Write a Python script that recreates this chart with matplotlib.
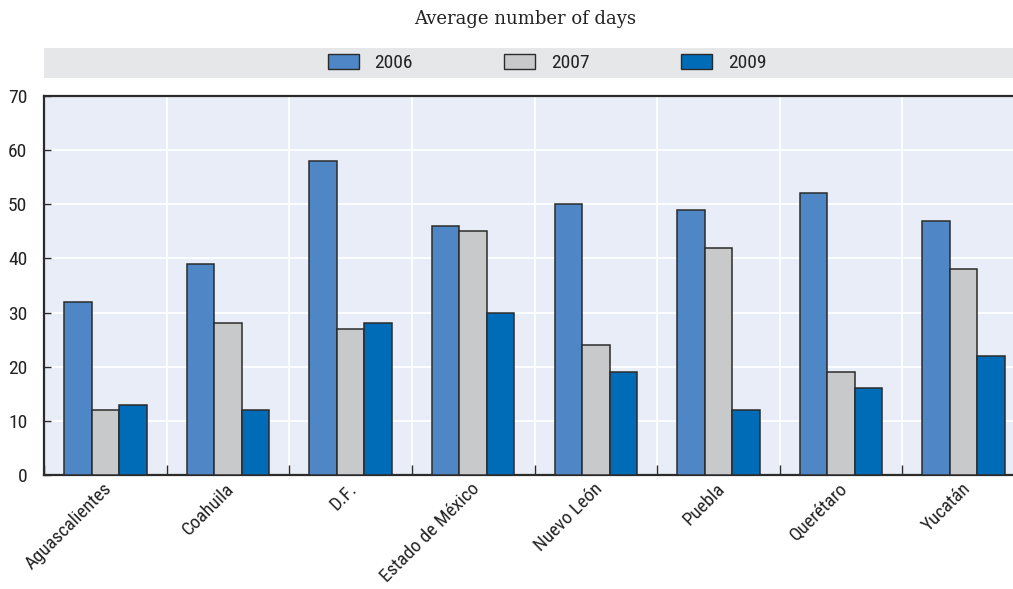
import matplotlib
matplotlib.use("Agg")
import matplotlib.pyplot as plt
import matplotlib.transforms as mtransforms
import numpy as np
from matplotlib.patches import Rectangle, Patch

states = ["Aguascalientes", "Coahuila", "D.F.", "Estado de México",
          "Nuevo León", "Puebla", "Querétaro", "Yucatán"]
years = ["2006", "2007", "2009"]
days_2006 = [32, 39, 58, 46, 50, 49, 52, 47]
days_2007 = [12, 28, 27, 45, 24, 42, 19, 38]
days_2009 = [13, 12, 28, 30, 19, 12, 16, 22]
yticks = [0, 10, 20, 30, 40, 50, 60, 70]

colors = ["#4F86C6", "#C8C9CB", "#006BB6"]
edge = "#2b2b2b"
bg = "#E9EDF7"
narrow = ["Roboto Condensed", "Liberation Sans Narrow", "Arial Narrow",
          "IBM Plex Sans Condensed", "DejaVu Sans"]

W, H = 1013, 589
fig = plt.figure(figsize=(W / 100, H / 100), dpi=100)

def fx(px):
    return px / W

def fy(py):
    return 1 - py / H

# main plotting area
ax = fig.add_axes([fx(44), fy(475), fx(1025 - 44), (475 - 96) / H])
ax.set_facecolor(bg)

x = np.arange(len(states))
bw = 0.224
series = [days_2006, days_2007, days_2009]
for i, (vals, c) in enumerate(zip(series, colors)):
    ax.bar(x + (i - 1) * bw, vals, width=bw, color=c, edgecolor=edge,
           linewidth=1.1, zorder=3)

ax.set_xlim(-0.5, len(states) - 0.5)
ax.set_ylim(0, 70)
ax.set_yticks(yticks)
ax.set_xticks(x)
ax.set_xticks(np.arange(len(states) + 1) - 0.5, minor=True)
ax.grid(axis="y", which="major", color="white", linewidth=1.3, zorder=1)
ax.grid(axis="x", which="minor", color="white", linewidth=1.3, zorder=1)
ax.grid(axis="x", which="major", visible=False)

ax.tick_params(axis="y", direction="in", length=5, width=1, color=edge,
               pad=12, labelsize=14, labelcolor="#222222")
ax.tick_params(axis="x", which="major", length=0, pad=8)
ax.tick_params(axis="x", which="minor", direction="in", length=7, width=1,
               color=edge)
for lab in ax.get_yticklabels():
    lab.set_family(narrow)
ax.set_xticklabels(states, rotation=45, ha="right", va="center",
                   rotation_mode="anchor", fontsize=13.6, family=narrow,
                   color="#222222")
shift = mtransforms.ScaledTranslation(0.04, 0.0, fig.dpi_scale_trans)
for lab in ax.get_xticklabels():
    lab.set_transform(lab.get_transform() + shift)

for side in ["left", "top", "bottom"]:
    ax.spines[side].set_color(edge)
    ax.spines[side].set_linewidth(1.6)
ax.spines["right"].set_visible(False)

# legend band
fig.patches.append(Rectangle((fx(44), fy(78)), fx(1013 - 44), 30 / H,
                             transform=fig.transFigure, facecolor="#E6E7E9",
                             edgecolor="none", zorder=0))
handles = [Patch(facecolor=c, edgecolor=edge, linewidth=1.0) for c in colors]
leg = fig.legend(handles, years, loc="center", ncol=3, frameon=False,
                 bbox_to_anchor=(fx(547), fy(63)),
                 handlelength=1.6, handleheight=0.85, handletextpad=0.8,
                 columnspacing=4.7, prop={"family": narrow, "size": 14})
for t in leg.get_texts():
    t.set_color("#222222")

fig.text(fx(525), fy(19), "Average number of days", ha="center",
         va="center", fontsize=13, family=["DejaVu Serif"], color="#222222")

fig.savefig("out.png", dpi=100)
